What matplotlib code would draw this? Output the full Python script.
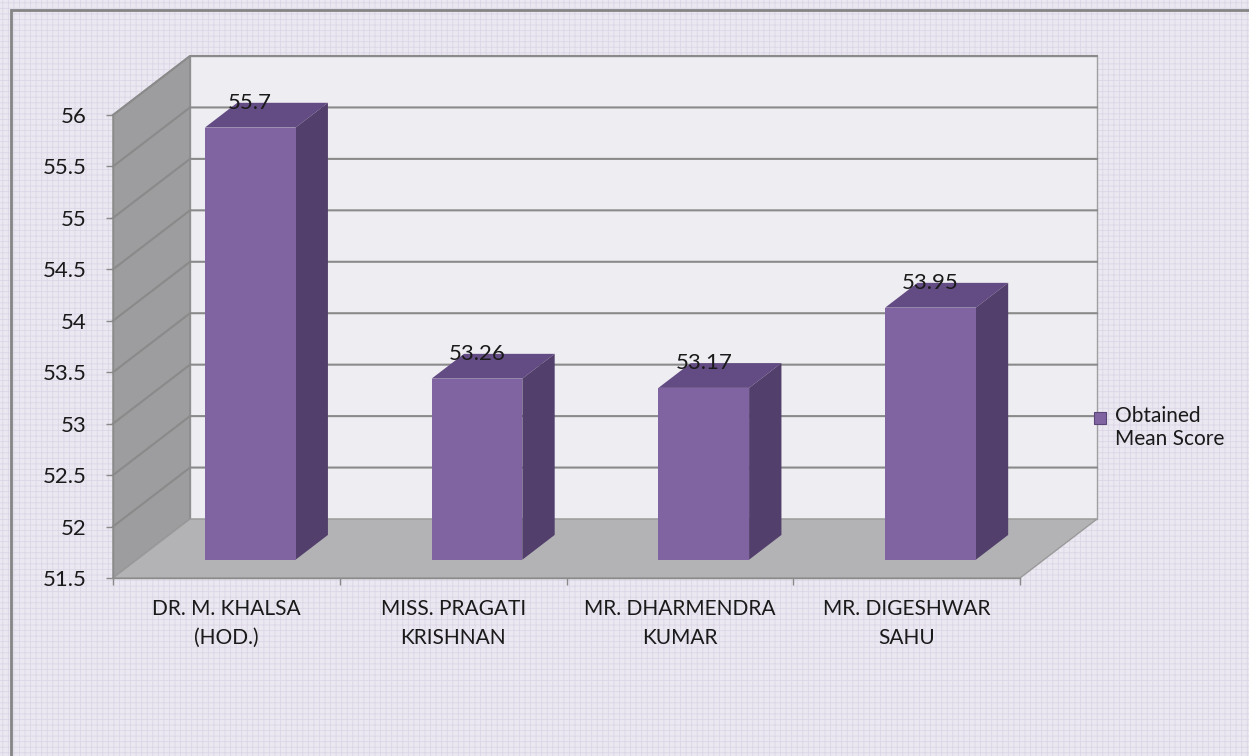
import matplotlib
matplotlib.use("Agg")
import matplotlib.pyplot as plt
from matplotlib.patches import Polygon, Rectangle

# data
categories = ["DR. M. KHALSA\n(HOD.)", "MISS. PRAGATI\nKRISHNAN",
              "MR. DHARMENDRA\nKUMAR", "MR. DIGESHWAR\nSAHU"]
scores = [55.7, 53.26, 53.17, 53.95]
value_labels = ["55.7", "53.26", "53.17", "53.95"]
series_name = "Obtained\nMean Score"
y_ticks = [51.5, 52, 52.5, 53, 53.5, 54, 54.5, 55, 55.5, 56]
y_min, y_max = 51.5, 56

plt.rcParams['font.family'] = ['Lato', 'DejaVu Sans']

W, H = 1249, 756
fig = plt.figure(figsize=(W / 100, H / 100), dpi=100)
fig.patch.set_facecolor('#ebe8f1')
txt_c = '#1a1a1a'
fs = 15
fs_num = 16

# patterned background + frame
plt.rcParams['hatch.linewidth'] = 0.6
bg = Rectangle((0, 0), 1, 1, transform=fig.transFigure, facecolor='#ebe8f1',
               edgecolor='#dcd6e6', hatch='+++', linewidth=0, zorder=-10)
fig.patches.append(bg)
frame = Rectangle((11 / W, -0.1), 1.2, 1 - 10 / H + 0.1, transform=fig.transFigure,
                  facecolor='none', edgecolor='#858585', linewidth=2, zorder=-9)
fig.patches.append(frame)

# front plane of the 3D box
ax = fig.add_axes([113 / W, (H - 578) / H, 907 / W, 463 / H])
ax.set_xlim(0, len(categories))
ax.set_ylim(y_min, y_max)
ax.patch.set_visible(False)
for s in ax.spines.values():
    s.set_visible(False)

# depth offset (front -> back) in data units
px_x = 907 / len(categories)
px_y = 463 / (y_max - y_min)
DX = 77 / px_x
DY = 59 / px_y
grid_c = '#8a8a8a'

# back wall
ax.add_patch(Polygon([(DX, y_min + DY), (len(categories) + DX, y_min + DY),
                      (len(categories) + DX, y_max + DY), (DX, y_max + DY)],
                     closed=True, facecolor='#eeedf2', edgecolor='#a0a0a0',
                     linewidth=1, clip_on=False, zorder=1))
# side wall
ax.add_patch(Polygon([(0, y_min), (0, y_max), (DX, y_max + DY), (DX, y_min + DY)],
                     closed=True, facecolor='#9d9d9f', edgecolor='#8a8a8a',
                     linewidth=1, clip_on=False, zorder=1))
# floor
ax.add_patch(Polygon([(0, y_min), (len(categories), y_min),
                      (len(categories) + DX, y_min + DY), (DX, y_min + DY)],
                     closed=True, facecolor='#b3b3b5', edgecolor='#9a9a9a',
                     linewidth=1, clip_on=False, zorder=1))
# gridlines on the walls
for t in y_ticks[1:]:
    ax.plot([0, DX, len(categories) + DX], [t, t + DY, t + DY],
            color=grid_c, linewidth=1.5, clip_on=False, zorder=2)

# bars
f0, f1 = 0.31, 0.73
bw = 0.4
front_c, top_c, side_c = '#8064a2', '#634b83', '#523f6c'
xs = [i + 0.5 for i in range(len(categories))]
bars = ax.bar([x + f0 * DX for x in xs], [v - y_min for v in scores],
              bottom=y_min + f0 * DY, width=bw, color=front_c,
              edgecolor='none', zorder=4, clip_on=False, label=series_name)
for x, v, lab in zip(xs, scores, value_labels):
    xl = x - bw / 2
    xr = x + bw / 2
    top = [(xl + f0 * DX, v + f0 * DY), (xr + f0 * DX, v + f0 * DY),
           (xr + f1 * DX, v + f1 * DY), (xl + f1 * DX, v + f1 * DY)]
    side = [(xr + f0 * DX, y_min + f0 * DY), (xr + f1 * DX, y_min + f1 * DY),
            (xr + f1 * DX, v + f1 * DY), (xr + f0 * DX, v + f0 * DY)]
    ax.add_patch(Polygon(top, closed=True, facecolor=top_c, edgecolor='none',
                         zorder=3, clip_on=False))
    ax.add_patch(Polygon(side, closed=True, facecolor=side_c, edgecolor='none',
                         zorder=3, clip_on=False))
    ax.text(x + f0 * DX, v + f1 * DY, lab, ha='center', va='center',
            fontsize=fs_num, color=txt_c, zorder=6, clip_on=False)

# axes ticks
ax.set_yticks(y_ticks)
ax.set_yticklabels([f"{t:g}" for t in y_ticks])
ax.tick_params(axis='y', length=5, width=1, color='#8a8a8a', pad=14,
               labelsize=fs_num, labelcolor=txt_c)
ax.set_xticks(range(len(categories) + 1))
ax.set_xticklabels([])
ax.set_xticks(xs, minor=True)
ax.set_xticklabels(categories, minor=True, fontsize=fs, color=txt_c,
                   linespacing=1.55)
ax.tick_params(axis='x', which='major', length=5, width=1, color='#8a8a8a')
ax.tick_params(axis='x', which='minor', length=0, pad=15)
ax.plot([0, len(categories)], [y_min, y_min], color='#8a8a8a', linewidth=1,
        clip_on=False, zorder=2)
ax.plot([0, 0], [y_min, y_max], color='#8a8a8a', linewidth=1,
        clip_on=False, zorder=2)

# legend: marker aligned with the first text line
fig.patches.append(Rectangle((1094 / W, (H - 424) / H), 12 / W, 12 / H,
                             transform=fig.transFigure, facecolor=front_c,
                             edgecolor='#5a4677', linewidth=0.8))
fig.text(1115 / W, (H - 406) / H, series_name, ha='left', va='top',
         fontsize=fs, color=txt_c, linespacing=1.2)

fig.savefig("out.png", dpi=100, facecolor=fig.get_facecolor())
